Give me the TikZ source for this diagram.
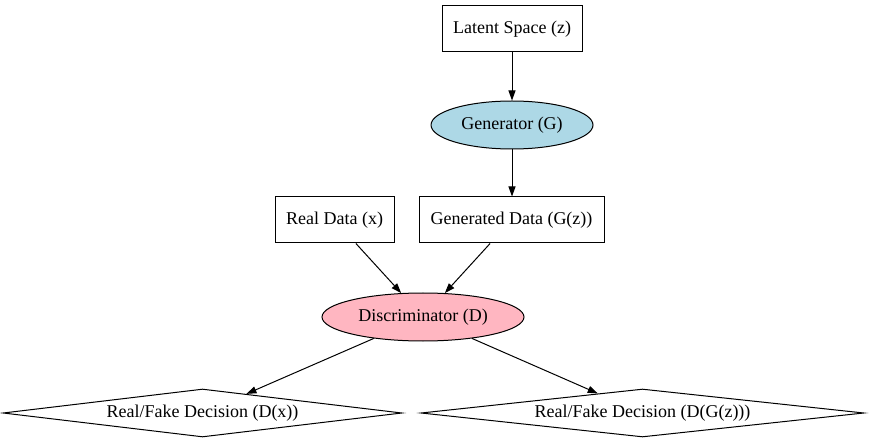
\documentclass[tikz,border=0pt]{standalone}
\usepackage{fontspec}
\setmainfont{Liberation Serif}
\usetikzlibrary{shapes.geometric,arrows.meta}
\definecolor{lblue}{HTML}{ADD8E6}
\definecolor{lpink}{HTML}{FFB6C1}
\begin{document}
\begin{tikzpicture}[x=1pt,y=-1pt,
  every node/.style={font=\fontsize{18}{21}\selectfont, line width=1pt, inner sep=0pt},
  boxnode/.style={draw, rectangle, minimum height=46pt},
  ellnode/.style={draw, ellipse, minimum height=48pt},
  dianode/.style={draw, diamond, aspect=8, minimum height=48pt},
  conn/.style={draw, line width=1pt, -{Triangle[length=10pt,width=7pt]}}]
\useasboundingbox (0,0) rectangle (869,443);
\node[boxnode, minimum width=140pt] (lat) at (512,29) {Latent Space (z)};
\node[ellnode, fill=lblue, minimum width=162pt] (gen) at (512,125) {Generator (G)};
\node[boxnode, minimum width=119pt] (real) at (334.5,220) {Real Data (x)};
\node[boxnode, minimum width=185pt] (gd) at (511.5,220) {Generated Data (G(z))};
\node[ellnode, fill=lpink, minimum width=202pt] (disc) at (423,317) {Discriminator (D)};
\node[dianode, minimum width=399pt] (dl) at (202.5,413) {Real/Fake Decision (D(x))};
\node[dianode, minimum width=443pt] (dr) at (642.5,413) {Real/Fake Decision (D(G(z)))};
\draw[conn] (lat) -- (gen);
\draw[conn] (gen) -- (gen |- gd.north);
\draw[conn] (real) -- (disc);
\draw[conn] (gd) -- (disc);
\draw[conn] (disc) -- (dl);
\draw[conn] (disc) -- (dr);
\end{tikzpicture}
\end{document}
